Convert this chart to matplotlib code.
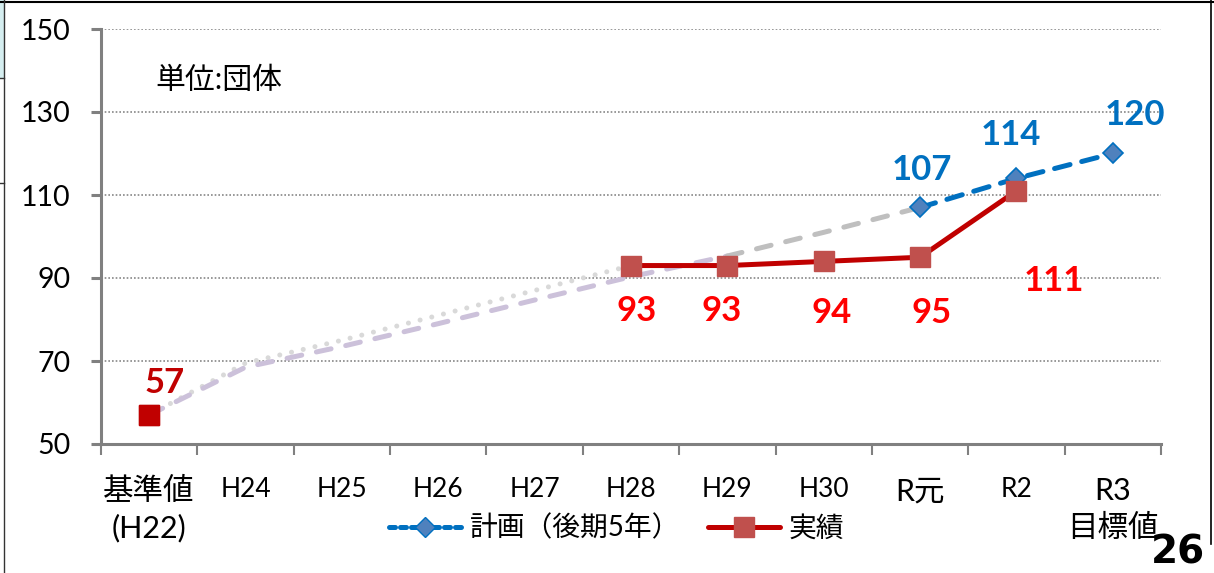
import numpy as np
import matplotlib
matplotlib.use("Agg")
import matplotlib.pyplot as plt
from matplotlib.lines import Line2D
from matplotlib.patches import Rectangle

plt.rcParams['font.family'] = ['Lato', 'Noto Sans CJK JP', 'DejaVu Sans']

# ---------------- data ----------------
categories = ["基準値\n(H22)", "H24", "H25", "H26", "H27", "H28", "H29", "H30", "R元", "R2", "R3\n目標値"]
nan = np.nan
plan_values   = [nan, nan, nan, nan, nan, nan, nan, nan, 107, 114, 120]
actual_values = [57, nan, nan, nan, nan, 93, 93, 94, 95, 111, nan]
guide_dotted   = [57, 69.5, 75, 81, 87, 93, nan, nan, nan, nan, nan]
guide_lavender = [57, 68.5, 73.5, 79, 84.7, 90.3, 95.3, nan, nan, nan, nan]
guide_gray     = [nan, nan, nan, nan, nan, nan, 95.3, 101, 107, nan, nan]
plan_label = "計画（後期5年）"
actual_label = "実績"
unit_text = "単位:団体"
y_ticks = [50, 70, 90, 110, 130, 150]

x = np.arange(len(categories))

fig = plt.figure(figsize=(12.14, 5.73), dpi=100)
ax = fig.add_axes([101/1214, 1-444/573, (1161-101)/1214, (444-29)/573])

GRAY = '#808080'
lw = 3.6

# guide lines
ax.plot(x, guide_dotted, color='#D9D9D9', lw=lw, dashes=(0.01, 2.4), dash_capstyle='round', zorder=2)
ax.plot(x, guide_lavender, color='#CCC1DA', lw=lw, dashes=(3, 3), dash_capstyle='round', zorder=2)
ax.plot(x, guide_gray, color='#BFBFBF', lw=lw, dashes=(3, 3), dash_capstyle='round', zorder=2)

# plan
ax.plot(x, plan_values, color='#0070C0', lw=lw, dashes=(3.2, 2.4), dash_capstyle='round',
        marker='D', markersize=10.5, markerfacecolor='#4F81BD', markeredgecolor='#0070C0',
        markeredgewidth=1.2, zorder=4)
# actual
ax.plot(x, actual_values, color='#C00000', lw=lw, solid_capstyle='round',
        marker='s', markersize=15, markerfacecolor='#C0504D', markeredgecolor='#C0504D', zorder=5)
ax.plot(x[0], actual_values[0], linestyle='none', marker='s', markersize=15,
        markerfacecolor='#C00000', markeredgecolor='#C00000', zorder=6)

# data labels (offsets in points)
lab_kw = dict(ha='center', va='center', fontsize=25, fontweight='bold', textcoords='offset points')
actual_offsets = {0: (11, 23), 5: (4, -33), 6: (-4, -33), 7: (6, -37), 8: (8, -40), 9: (27, -65)}
for i, off in actual_offsets.items():
    col = '#C00000' if i == 0 else '#FF0000'
    ax.annotate(f"{actual_values[i]:g}", (x[i], actual_values[i]), xytext=off, color=col, **lab_kw)
plan_offsets = {8: (1, 27), 9: (-4, 31), 10: (16, 28)}
for i, off in plan_offsets.items():
    ax.annotate(f"{plan_values[i]:g}", (x[i], plan_values[i]), xytext=off, color='#0070C0', **lab_kw)

ax.text(0.051, 0.877, unit_text, transform=ax.transAxes, fontsize=21.5, ha='left', va='center')

# axes styling
ax.set_xlim(-0.5, len(categories) - 0.5)
ax.set_ylim(50, 150)
ax.set_yticks(y_ticks)
ax.set_yticklabels([str(v) for v in y_ticks], fontsize=20.5)
for s in ['top', 'right']:
    ax.spines[s].set_visible(False)
for s in ['left', 'bottom']:
    ax.spines[s].set_color(GRAY)
    ax.spines[s].set_linewidth(2.2)
ax.tick_params(axis='y', length=7, width=2.2, color=GRAY, pad=15)
ax.grid(axis='y', linestyle=(0, (1, 1.2)), color='#888888', lw=1.2)
ax.set_axisbelow(True)

ax.set_xticks(x)
ax.set_xticklabels(categories, fontsize=19, linespacing=1.5, va='top')
ax.tick_params(axis='x', which='major', length=0, pad=24)
for i, t in enumerate(ax.get_xticklabels()):
    if '\n' in categories[i] or '元' in categories[i]:
        t.set_fontsize(22)
        t.set_linespacing(1.35)
ax.set_xticks(np.arange(-0.5, len(categories), 1), minor=True)
ax.tick_params(axis='x', which='minor', length=8, width=1.5, color=GRAY)

# legend
handles = [
    Line2D([], [], color='#0070C0', lw=lw, dashes=(1.2, 1.0), dash_capstyle='round',
           marker='D', markersize=10.5, markerfacecolor='#4F81BD', markeredgecolor='#0070C0'),
    Line2D([], [], color='#C00000', lw=lw, solid_capstyle='round',
           marker='s', markersize=14, markerfacecolor='#C0504D', markeredgecolor='#C0504D'),
]
fig.legend(handles, [plan_label, actual_label], loc='center', bbox_to_anchor=(0.508, 1-528/573),
           ncol=2, frameon=False, fontsize=20, handlelength=2.6, columnspacing=1.0, handletextpad=0.3)

# page number
fig.text(1205/1214, 1-552/573, "26", ha='right', va='center', fontsize=28,
         fontweight='bold', family='DejaVu Sans', color='black')

# slide frame decorations
fig.add_artist(Line2D([0, 1], [1-2/573, 1-2/573], color='black', lw=1.5, transform=fig.transFigure))
fig.add_artist(Line2D([4/1214, 4/1214], [0, 1], color='#333333', lw=1.0, transform=fig.transFigure))
fig.add_artist(Line2D([1211/1214, 1211/1214], [1-544/573, 1], color='black', lw=1.2, transform=fig.transFigure))
fig.add_artist(Rectangle((0, 1-78/573), 4/1214, 78/573, facecolor='#D5EEF0', edgecolor='none',
                         transform=fig.transFigure))
fig.add_artist(Line2D([0, 4/1214], [1-78/573, 1-78/573], color='#333333', lw=1.0, transform=fig.transFigure))
fig.add_artist(Line2D([0, 4/1214], [1-183/573, 1-183/573], color='#333333', lw=1.0, transform=fig.transFigure))

fig.savefig("out.png", dpi=100)
